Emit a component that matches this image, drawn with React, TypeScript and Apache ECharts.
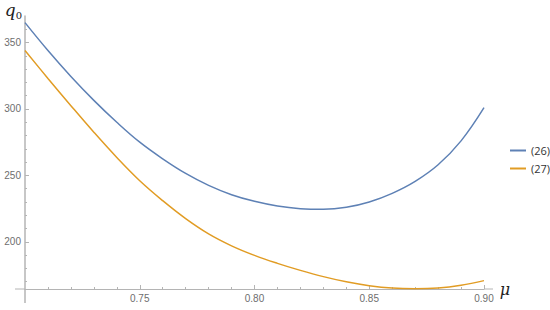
import React, { useEffect, useRef } from "react";
import * as echarts from "echarts";

const muValues = [0.70, 0.71, 0.72, 0.73, 0.74, 0.75, 0.76, 0.77, 0.78, 0.79, 0.80, 0.81, 0.82, 0.83, 0.84, 0.85, 0.86, 0.87, 0.88, 0.89, 0.90];
const series26 = [365, 344, 324.5, 306.5, 290, 275, 262.5, 251.5, 242.5, 235.5, 230.5, 227, 225, 224.5, 226, 230, 236.5, 245.5, 258, 276, 301];
const series27 = [344, 323, 302.5, 282.5, 263.5, 246, 231, 217.5, 206, 197, 189.8, 183.8, 178.5, 173.8, 169.9, 167, 165.2, 164.7, 165.3, 167.4, 170.8];
const seriesNames = ["(26)", "(27)"];
const xMajorTicks = [0.75, 0.80, 0.85, 0.90];
const xMinorTicks = [0.71, 0.72, 0.73, 0.74, 0.76, 0.77, 0.78, 0.79, 0.81, 0.82, 0.83, 0.84, 0.86, 0.87, 0.88, 0.89];
const yMajorTicks = [200, 250, 300, 350];
const yMinorTicks = [170, 180, 190, 210, 220, 230, 240, 260, 270, 280, 290, 310, 320, 330, 340, 360];

const X_MIN = 0.70;
const X_MAX = 0.90;
const Y_MIN = 164.5;
const Y_MAX = 370;

const axisColor = "#b4b4b4";
const labelColor = "#6e6e6e";

export default function App() {
  const ref = useRef<HTMLDivElement>(null);
  useEffect(() => {
    if (!ref.current) return;
    const chart = echarts.init(ref.current, undefined, { renderer: "svg" });
    const left = 25, right = 66, top = 16, bottom = 21;
    const W = 550, H = 310;
    const x0 = left, x1 = W - right, y0 = H - bottom;
    const labelStyle = { color: labelColor, fontSize: 10, fontFamily: "Liberation Sans, Arial, sans-serif" };
    const option: any = {
      animation: false,
      backgroundColor: "#ffffff",
      grid: { left, right, top, bottom, containLabel: false },
      legend: {
        orient: "vertical",
        left: 505,
        top: 139,
        itemWidth: 16,
        itemHeight: 2,
        itemGap: 5,
        icon: "rect",
        textStyle: { color: "#333", fontSize: 11, fontFamily: "Open Sans, Liberation Sans, sans-serif", lineHeight: 13 },
        data: seriesNames,
      },
      xAxis: [
        {
          type: "value",
          min: X_MIN,
          max: X_MAX,
          name: "μ",
          nameLocation: "end",
          nameGap: 12,
          nameTextStyle: { fontFamily: "DejaVu Serif, serif", fontStyle: "italic", fontSize: 16, color: "#222", verticalAlign: "middle" },
          axisLine: { show: true, lineStyle: { color: axisColor, width: 1 } },
          axisTick: { show: true, inside: true, length: 4, lineStyle: { color: axisColor }, customValues: xMajorTicks },
          axisLabel: { show: true, margin: 4, customValues: xMajorTicks, formatter: (v: number) => v.toFixed(2), ...labelStyle },
          splitLine: { show: false },
        },
        {
          type: "value",
          min: X_MIN,
          max: X_MAX,
          position: "bottom",
          axisLine: { show: false },
          axisTick: { show: true, inside: true, length: 2, lineStyle: { color: axisColor }, customValues: xMinorTicks },
          axisLabel: { show: false },
          splitLine: { show: false },
        },
      ],
      yAxis: [
        {
          type: "value",
          min: Y_MIN,
          max: Y_MAX,
          name: "{q|q}{s|0}",
          nameLocation: "end",
          nameGap: -2,
          nameTextStyle: {
            align: "right",
            verticalAlign: "bottom",
            padding: [0, 3, 0, 0],
            rich: {
              q: { fontFamily: "DejaVu Serif, serif", fontStyle: "italic", fontSize: 17, color: "#222" },
              s: { fontFamily: "DejaVu Serif, serif", fontSize: 10, color: "#222", verticalAlign: "bottom", padding: [0, 0, -2, 0] },
            },
          },
          axisLine: { show: true, lineStyle: { color: axisColor, width: 1.5 } },
          axisTick: { show: true, inside: true, length: 4, lineStyle: { color: axisColor }, customValues: yMajorTicks },
          axisLabel: { show: true, margin: 4, customValues: yMajorTicks, ...labelStyle },
          splitLine: { show: false },
        },
        {
          type: "value",
          min: Y_MIN,
          max: Y_MAX,
          position: "left",
          axisLine: { show: false },
          axisTick: { show: true, inside: true, length: 2, lineStyle: { color: axisColor }, customValues: yMinorTicks },
          axisLabel: { show: false },
          splitLine: { show: false },
        },
      ],
      graphic: [
        { type: "line", shape: { x1: x0, y1: y0, x2: x0, y2: y0 + 14 }, style: { stroke: axisColor, lineWidth: 1.5 }, silent: true },
        { type: "line", shape: { x1: x0 - 10, y1: y0, x2: x0, y2: y0 }, style: { stroke: axisColor, lineWidth: 1 }, silent: true },
        { type: "line", shape: { x1: x1, y1: y0, x2: x1 + 9, y2: y0 }, style: { stroke: axisColor, lineWidth: 1 }, silent: true },
      ],
      series: [
        {
          name: seriesNames[0],
          type: "line",
          smooth: 0.4,
          showSymbol: false,
          symbol: "none",
          color: "#5E81B5",
          lineStyle: { width: 1.5, color: "#5E81B5" },
          data: muValues.map((m, i) => [m, series26[i]]),
        },
        {
          name: seriesNames[1],
          type: "line",
          smooth: 0.4,
          showSymbol: false,
          symbol: "none",
          color: "#E19C24",
          lineStyle: { width: 1.5, color: "#E19C24" },
          data: muValues.map((m, i) => [m, series27[i]]),
        },
      ],
    };
    chart.setOption(option);
    return () => chart.dispose();
  }, []);
  return <div ref={ref} style={{ width: 550, height: 310, position: "absolute", left: 0, top: 0 }} />;
}
